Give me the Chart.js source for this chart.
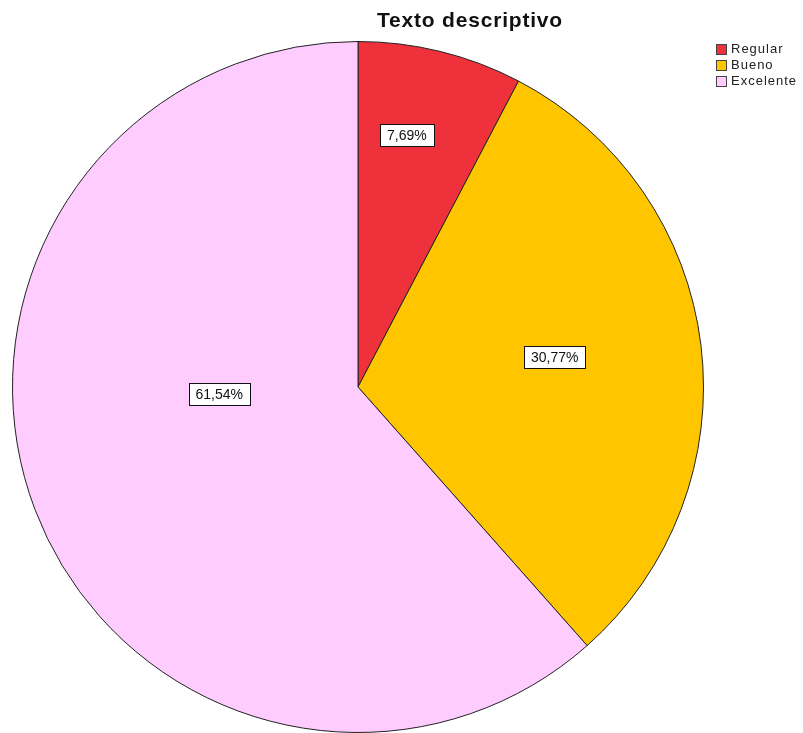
<!DOCTYPE html>
<html>
<head>
<meta charset="utf-8">
<script src="https://cdn.jsdelivr.net/npm/chart.js@4.4.1/dist/chart.umd.min.js"></script>
<style>
  html, body { margin: 0; padding: 0; background: #ffffff; overflow: hidden; width: 803px; height: 733px; }
  #wrap { position: relative; width: 803px; height: 733px; }
  #c { position: absolute; left: 0; top: 0; }
  #title { position: absolute; left: 0; width: 940px; top: 8px; text-align: center; font: bold 21px "Liberation Sans", Arial, sans-serif; letter-spacing: 0.8px; color: #111; }
  #legend { position: absolute; left: 716px; top: 41px; font: 13px "Liberation Sans", Arial, sans-serif; letter-spacing: 1px; color: #222; }
  .li { height: 16px; line-height: 16px; white-space: nowrap; }
  .sw { display: inline-block; width: 11px; height: 11px; border: 1px solid #444; vertical-align: -2px; margin-right: 4px; box-sizing: border-box; }
</style>
</head>
<body>
<div id="wrap">
  <canvas id="c" width="803" height="740"></canvas>
  <div id="title"></div>
  <div id="legend"></div>
</div>
<script>
const chartTitle = "Texto descriptivo";
const categories = ["Regular", "Bueno", "Excelente"];
const percentValues = [7.69, 30.77, 61.54];
const percentLabels = ["7,69%", "30,77%", "61,54%"];
const sliceColors = ["#EF313B", "#FFC600", "#FFCCFF"];
// label anchor: angle (deg, clockwise from top) and fraction of radius
const labelAngles = [11.0, 81.3, 267.1];
const labelRadii = [0.742, 0.576, 0.402];

document.getElementById('title').textContent = chartTitle;
const lg = document.getElementById('legend');
categories.forEach((c, i) => {
  const d = document.createElement('div');
  d.className = 'li';
  const s = document.createElement('span');
  s.className = 'sw';
  s.style.background = sliceColors[i];
  d.appendChild(s);
  d.appendChild(document.createTextNode(c));
  lg.appendChild(d);
});

const boxLabels = {
  id: 'boxLabels',
  afterDatasetsDraw(chart) {
    const ctx = chart.ctx;
    const meta = chart.getDatasetMeta(0);
    ctx.save();
    ctx.font = '14px "Liberation Sans", Arial, sans-serif';
    ctx.textAlign = 'center';
    ctx.textBaseline = 'middle';
    meta.data.forEach((arc, i) => {
      const a = labelAngles[i] * Math.PI / 180;
      const r = arc.outerRadius * labelRadii[i];
      const x = arc.x + r * Math.sin(a);
      const y = arc.y - r * Math.cos(a);
      const t = percentLabels[i];
      const w = Math.round(ctx.measureText(t).width + 14);
      const h = 22;
      const bx = Math.round(x - w / 2) + 0.5, by = Math.round(y - h / 2) + 0.5;
      ctx.fillStyle = '#ffffff';
      ctx.fillRect(bx, by, w, h);
      ctx.strokeStyle = '#111111';
      ctx.lineWidth = 1;
      ctx.strokeRect(bx, by, w, h);
      ctx.fillStyle = '#111111';
      ctx.fillText(t, x, y + 1);
    });
    ctx.restore();
  }
};

new Chart(document.getElementById('c'), {
  type: 'pie',
  data: {
    labels: categories,
    datasets: [{
      data: percentValues,
      backgroundColor: sliceColors,
      borderColor: '#222222',
      borderWidth: 1
    }]
  },
  options: {
    responsive: false,
    animation: false,
    devicePixelRatio: 1,
    layout: { padding: { left: 12, top: 41, right: 99, bottom: 7 } },
    plugins: {
      legend: { display: false },
      title: { display: false },
      tooltip: { enabled: false }
    }
  },
  plugins: [boxLabels]
});
</script>
</body>
</html>
